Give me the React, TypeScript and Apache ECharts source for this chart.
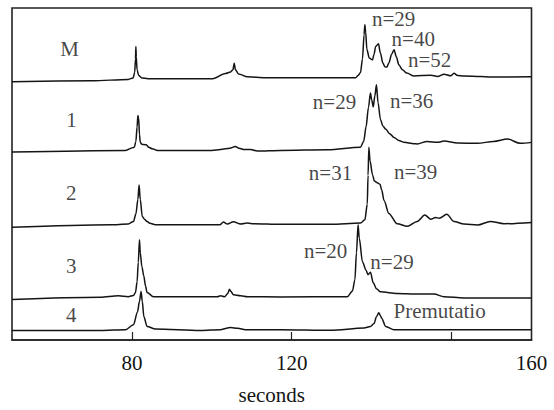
import React, { useEffect, useRef } from "react";
import * as echarts from "echarts";

// time axis (seconds)
const xMin = 50;
const xMax = 180;
const xTickValues = [80, 120, 160];
const xLabelValues = [80, 120, 180];
const xLabelTexts = ["80", "120", "160"];
const yMax = 342.7;

// stacked electropherogram traces: [seconds, signal (offset included)]
const traceM: [number, number][] = [
  [50, 266.7], [70, 267.5], [79.1, 269], [80.3, 270.5], [80.7, 276], [80.9, 290], [81.0, 303], [81.1, 292],
  [81.3, 279], [81.7, 273], [82.5, 270.5], [84, 269.7], [100.2, 269.7], [103.4, 275], [104.7, 276.7],
  [105.3, 279], [105.6, 285.7], [105.9, 279], [106.7, 274.7], [108.9, 271.7], [113.4, 270.7], [136, 270.7],
  [136.6, 273], [137.2, 276], [137.7, 290], [138.1, 315], [138.3, 325.4], [138.5, 318], [138.8, 300],
  [139.4, 291], [140.2, 289], [140.6, 295], [141.0, 303], [141.7, 305.7], [142.2, 296], [142.8, 286],
  [143.3, 282], [143.8, 281.7], [144.3, 286], [145.0, 295], [145.6, 299.7], [146.2, 292], [146.8, 284],
  [147.7, 279], [148.8, 275.5], [150.6, 272.4], [154.8, 273.4], [156.5, 272], [158.1, 274.4], [159.8, 272.7],
  [160.6, 275.4], [161.5, 273], [163.1, 272.4], [167.3, 272], [169.7, 271.4], [180, 271.7],
];
const trace1: [number, number][] = [
  [50, 194], [78.4, 195.7], [80.4, 198.7], [80.6, 199], [81.0, 205], [81.3, 220], [81.5, 231.7], [81.7, 229],
  [81.9, 212], [82.1, 204], [82.5, 202], [83.0, 201.7], [83.6, 201.5], [84.2, 199], [85.1, 197.4],
  [86.4, 195.7], [100, 195.7], [102.2, 196.7], [104.5, 198], [105.9, 199.7], [106.8, 198], [107.9, 196.7],
  [109.7, 196.7], [111.4, 195], [117.2, 195.7], [129, 196.4], [137.2, 199], [138.0, 205], [138.6, 220],
  [139.2, 240], [139.7, 255], [140.0, 248], [140.4, 240.7], [140.8, 252], [141.2, 263.4], [141.6, 245],
  [142.2, 227.7], [142.8, 221], [143.5, 217.7], [144.5, 213], [145.6, 209], [146.8, 206], [148.1, 204],
  [150.6, 202.7], [151.4, 202.4], [153.9, 205], [156.5, 204], [158.1, 205.4], [161.5, 203.4], [166.5, 203],
  [170.5, 205], [174.0, 207.4], [177.2, 203], [180, 204],
];
const trace2: [number, number][] = [
  [50, 116.4], [74.6, 119], [79.1, 119.7], [80.4, 122.4], [81.0, 130], [81.5, 145], [81.8, 160], [82.1, 145],
  [82.6, 127.4], [83.2, 124.5], [83.8, 122.4], [84.5, 120.5], [85.9, 119], [102, 119], [102.9, 121.7],
  [103.9, 119.7], [105.4, 122], [107.2, 119.7], [108.9, 120.7], [110.5, 120], [117.2, 119.4], [129.7, 119.4],
  [137.2, 120.7], [138.3, 124], [138.9, 140], [139.1, 170], [139.3, 199], [139.6, 185], [140.2, 170.7],
  [140.7, 164], [141.4, 162.4], [142.1, 160.7], [142.5, 155], [143.1, 144], [144.3, 130.7], [146.4, 120],
  [148.9, 117.4], [151.4, 122.4], [153.3, 129], [154.8, 124.7], [156.0, 126.4], [156.9, 125.7], [158.8, 129.7],
  [160.6, 122.4], [163.1, 119.7], [166.5, 118.7], [169.7, 122.4], [173.1, 120], [180, 121.4],
];
const trace3: [number, number][] = [
  [50, 41.7], [72.1, 44], [76.6, 45.7], [79.1, 44.7], [80.4, 46], [80.9, 49], [81.3, 60], [81.6, 80],
  [81.9, 103.4], [82.1, 90], [82.5, 75.7], [83.0, 65.7], [83.4, 56], [83.8, 49], [85.4, 44.7], [101.4, 44.7],
  [102.2, 45.7], [103.2, 44.7], [104.0, 48], [104.4, 52.4], [104.8, 50], [105.4, 46.7], [107.2, 45.7],
  [108.9, 44.7], [117.2, 44.4], [133.9, 44.7], [135.2, 50.7], [135.8, 62], [136.2, 90], [136.6, 119],
  [136.9, 105], [137.7, 80.7], [138.6, 72], [139.1, 67.5], [139.7, 70], [140.4, 59], [141.2, 53],
  [142.2, 49.7], [146.4, 48], [151.4, 47.4], [155.6, 47.4], [158.1, 44.7], [163.1, 43.4], [180, 43.4],
];
const trace4: [number, number][] = [
  [50, 9.7], [72.1, 9.7], [78.4, 10.7], [80.4, 15.7], [81.4, 29], [81.9, 40], [82.3, 50], [82.6, 40],
  [83.0, 24], [83.8, 14], [85.9, 11.4], [97.2, 9.7], [102.2, 10.7], [104.7, 13], [106.5, 12], [108.4, 10.7],
  [117.2, 10.7], [129.7, 10], [138.1, 12.4], [139.7, 14], [140.6, 17], [141.2, 24], [141.8, 28],
  [142.2, 25], [142.5, 22.4], [143.5, 14], [145.6, 10.7], [180, 10.7],
];

const traceNames = ["M", "1", "2", "3", "4"];
const traces = [traceM, trace1, trace2, trace3, trace4];

// text annotations: [seconds, signal, text]
const annotations: [number, number, string][] = [
  [64.4, 300.7, "M"],
  [64.9, 227, "1"],
  [64.8, 151.4, "2"],
  [64.8, 76.4, "3"],
  [64.8, 25.7, "4"],
  [145.5, 331.7, "n=29"],
  [150.4, 310.2, "n=40"],
  [154.5, 288.7, "n=52"],
  [130.7, 245.2, "n=29"],
  [150.0, 246.2, "n=36"],
  [129.7, 172.7, "n=31"],
  [151.0, 173.7, "n=39"],
  [128.5, 92.2, "n=20"],
  [145.1, 80.7, "n=29"],
  [157.0, 30.2, "Premutatio"],
];

const FONT = "Liberation Serif";
const INK = "#141414";

export default function App() {
  const ref = useRef<HTMLDivElement>(null);
  useEffect(() => {
    if (!ref.current) return;
    const chart = echarts.init(ref.current, null, { renderer: "svg" });
    const lineSeries = traces.map((t, i) => ({
      type: "line",
      name: traceNames[i],
      data: t,
      showSymbol: false,
      symbol: "none",
      smooth: 0.3,
      smoothMonotone: "x",
      lineStyle: { color: INK, width: 1.5 },
      silent: true,
      z: 2,
    }));
    chart.setOption({
      animation: false,
      backgroundColor: "#ffffff",
      textStyle: { fontFamily: FONT },
      grid: {
        left: 12,
        right: 22.5,
        top: 8,
        bottom: 59.3,
        show: true,
        borderColor: "#222",
        borderWidth: 1.6,
        backgroundColor: "transparent",
      },
      xAxis: {
        type: "value",
        min: xMin,
        max: xMax,
        name: "seconds",
        nameLocation: "middle",
        nameGap: 44,
        nameTextStyle: { fontFamily: FONT, fontSize: 21, color: INK },
        axisLine: { show: true, lineStyle: { color: "#222", width: 1.6 } },
        axisTick: {
          show: true,
          inside: true,
          length: 8,
          customValues: xTickValues,
          lineStyle: { color: "#222", width: 1.2 },
        },
        axisLabel: {
          show: true,
          customValues: xLabelValues,
          margin: 12,
          fontFamily: FONT,
          fontSize: 21,
          color: INK,
          formatter: (v: number) => {
            const idx = xLabelValues.indexOf(v);
            return idx >= 0 ? xLabelTexts[idx] : "";
          },
        },
        splitLine: { show: false },
      },
      yAxis: {
        type: "value",
        min: 0,
        max: yMax,
        show: false,
        splitLine: { show: false },
      },
      series: [
        ...lineSeries,
        {
          type: "scatter",
          data: annotations.map((a) => ({ value: [a[0], a[1]], name: a[2] })),
          symbolSize: 0,
          silent: true,
          z: 3,
          label: {
            show: true,
            position: "inside",
            formatter: (p: any) => p.name,
            fontFamily: FONT,
            fontSize: 21,
            color: INK,
            align: "center",
            verticalAlign: "middle",
          },
        },
      ],
    });
    return () => chart.dispose();
  }, []);
  return (
    <div
      ref={ref}
      style={{ position: "fixed", left: 0, top: 0, width: 554, height: 410, background: "#fff" }}
    />
  );
}
